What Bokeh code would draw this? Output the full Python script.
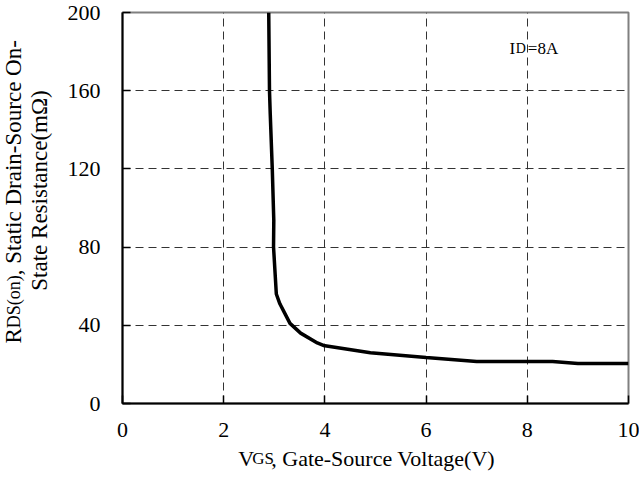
import math
from bokeh.plotting import figure
from bokeh.models import Range1d, FixedTicker, Label
from bokeh.layouts import row, column
from bokeh.core.properties import value
from bokeh.embed import file_html
from bokeh.resources import INLINE

# ---- data ----
vgs = [2.89, 2.905, 2.92, 2.96, 2.99, 2.985, 3.04, 3.11, 3.19, 3.31, 3.52, 3.85, 3.97, 4.9, 6.0, 7.0, 8.5, 9.0, 10.0]
rds = [200, 160, 148, 120, 93.6, 80, 56, 51, 47, 41, 36, 31, 29.7, 26, 23.5, 21.5, 21.5, 20.5, 20.5]
x_ticks = [0, 2, 4, 6, 8, 10]
y_ticks = [0, 40, 80, 120, 160, 200]

FONT = "Liberation Serif"
LEFT_W, MAIN_W = 62, 577
MAIN_H, BOTTOM_H = 447, 31
TOTAL_H = MAIN_H + BOTTOM_H

# ---------------- main chart ----------------
p = figure(width=MAIN_W, height=MAIN_H, output_backend="svg", toolbar_location=None,
           x_range=Range1d(0, 10), y_range=Range1d(0, 200),
           min_border_left=60, min_border_right=11, min_border_top=12, min_border_bottom=44)
p.background_fill_color = "white"
p.border_fill_color = "white"
p.outline_line_color = "#808080"
p.outline_line_width = 2

for ax, ticks, standoff in ((p.xaxis, x_ticks, 19), (p.yaxis, y_ticks, 22)):
    ax.ticker = FixedTicker(ticks=ticks)
    ax.minor_tick_line_color = None
    ax.major_tick_in = 8
    ax.major_tick_out = 0
    ax.major_tick_line_width = 1.5
    ax.major_tick_line_color = "black"
    ax.axis_line_color = "black"
    ax.axis_line_width = 2
    ax.major_label_text_font = FONT
    ax.major_label_text_font_size = "22px"
    ax.major_label_text_color = "black"
    ax.major_label_standoff = standoff

for g in (p.xgrid, p.ygrid):
    g.grid_line_color = "#333333"
    g.grid_line_dash = "8 5"
    g.grid_line_width = 1

p.line(vgs, rds, line_color="black", line_width=3.5)

# I_D = 8A annotation (inside the frame)
def lab(text, x, y, xo, size):
    p.add_layout(Label(x=x, y=y, x_offset=xo, y_offset=0, text=text,
                       text_font=FONT, text_font_size=f"{size}px", text_color="black",
                       text_align="left", text_baseline="alphabetic"))

big, small = 17, 14
ax0, ay0 = 7.65, 181.6
xo = 0
lab("I", ax0, ay0, xo, big)
xo += 0.333 * big + 0.5
lab("D", ax0, ay0, xo, small)
xo += 0.722 * small + 2
lab("=8A", ax0, ay0, xo, big)


def bare(w, h):
    f = figure(width=w, height=h, output_backend="svg", toolbar_location=None,
               x_range=Range1d(0, w), y_range=Range1d(0, h),
               x_axis_type=None, y_axis_type=None,
               min_border_left=0, min_border_right=0, min_border_top=0, min_border_bottom=0)
    f.outline_line_color = None
    f.grid.visible = False
    f.background_fill_color = "white"
    f.border_fill_color = "white"
    return f


def put(f, text, x, y, size, angle=0.0, align="left"):
    f.text(x=[x], y=[y], text=[text], angle=angle, text_font=value(FONT),
           text_font_size=value(f"{size}px"), text_color="black",
           text_align=align, text_baseline="alphabetic")


# ---------------- y axis title (rotated, two lines) ----------------
left = bare(LEFT_W, TOTAL_H)
big, small = 23, 18
a = math.pi / 2
yy = TOTAL_H - 343
put(left, "R", 13, yy, big, a)
yy += 0.667 * big
put(left, "DS(on)", 13, yy, small, a)
yy += 2.944 * small
put(left, ", Static Drain-Source On-", 13, yy, big, a)
put(left, "State Resistance(mΩ)", 39, TOTAL_H - 190, big, a, "center")

# ---------------- x axis title ----------------
bottom = bare(MAIN_W, BOTTOM_H)
big, small = 22, 17
xx = 238 - LEFT_W - 44
by = TOTAL_H - 466 + 8
put(bottom, "V", xx, by, big)
xx += 0.722 * big
put(bottom, "GS", xx, by, small)
xx += (0.722 + 0.556) * small
put(bottom, ", Gate-Source Voltage(V)", xx, by, big)

layout = row(left, column(p, bottom))
open("out.html", "w").write(file_html(layout, INLINE))
